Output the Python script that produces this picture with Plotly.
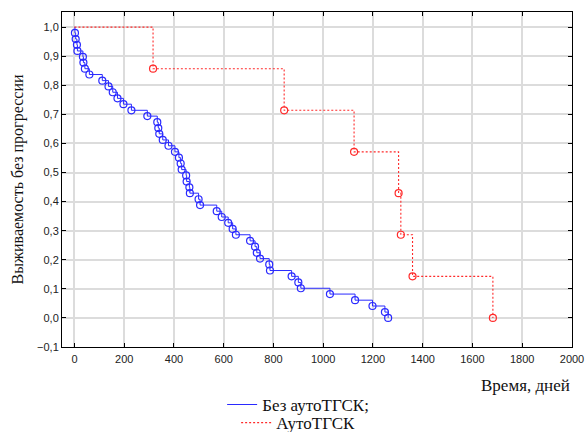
import plotly.graph_objects as go

# Without auto-HSCT (blue): event times (days) and survival after each event
blue_days = [2, 5, 10, 12, 34, 36, 42, 60, 112, 137, 154, 173, 197, 229, 293,
             333, 337, 341, 355, 378, 404, 420, 427, 431, 449, 451, 462, 464,
             499, 505, 572, 592, 618, 636, 649, 706, 726, 733, 746, 783, 786,
             873, 900, 910, 1027, 1128, 1198, 1248, 1261]
blue_surv = [0.980, 0.959, 0.939, 0.918, 0.898, 0.878, 0.857, 0.837, 0.816,
             0.796, 0.776, 0.755, 0.735, 0.714, 0.694, 0.673, 0.653, 0.633,
             0.612, 0.592, 0.571, 0.551, 0.531, 0.510, 0.490, 0.469, 0.449,
             0.429, 0.408, 0.388, 0.367, 0.347, 0.327, 0.306, 0.286, 0.265,
             0.245, 0.224, 0.204, 0.184, 0.163, 0.143, 0.122, 0.102, 0.082,
             0.061, 0.041, 0.020, 0.000]

# Auto-HSCT (red)
red_days = [316, 843, 1124, 1303, 1312, 1359, 1682]
red_surv = [0.857, 0.714, 0.571, 0.429, 0.286, 0.143, 0.000]

start_day = [0]
start_surv = [1.0]

blue_name = "Без аутоТГСК;"
red_name = "АутоТГСК"
x_title = "Время, дней"
y_title = "Выживаемость без прогрессии"

x_ticks = [0, 200, 400, 600, 800, 1000, 1200, 1400, 1600, 1800, 2000]
y_ticks = [-0.1, 0.0, 0.1, 0.2, 0.3, 0.4, 0.5, 0.6, 0.7, 0.8, 0.9, 1.0]

BLUE = "#2a2aff"
RED = "#ff2a2a"
SERIF = "Liberation Serif"
SANS = "Liberation Sans"

fig = go.Figure()

fig.add_trace(go.Scatter(
    x=start_day + blue_days, y=start_surv + blue_surv, mode="lines",
    line=dict(color=BLUE, width=1, shape="hv"), name=blue_name,
    legend="legend", hoverinfo="skip"))
fig.add_trace(go.Scatter(
    x=blue_days, y=blue_surv, mode="markers", showlegend=False,
    marker=dict(symbol="circle-open", size=7, color=BLUE, line=dict(width=1.2))))

fig.add_trace(go.Scatter(
    x=start_day + red_days, y=start_surv + red_surv, mode="lines",
    line=dict(color=RED, width=1.1, shape="hv", dash="2px,2px"), name=red_name,
    legend="legend2", hoverinfo="skip"))
fig.add_trace(go.Scatter(
    x=red_days, y=red_surv, mode="markers", showlegend=False,
    marker=dict(symbol="circle-open", size=7, color=RED, line=dict(width=1.2))))

axis_common = dict(
    showline=True, linecolor="black", linewidth=1, mirror="ticks",
    ticks="inside", ticklen=4, tickcolor="black", tickwidth=1,
    showgrid=True, gridcolor="#dcdcdc", gridwidth=1.5, zeroline=False,
    automargin=False,
    tickfont=dict(family=SANS, size=11, color="#222222"),
)

fig.update_xaxes(range=[-50, 2000], tickvals=x_ticks, tickformat="d",
                 ticklabelstandoff=2, **axis_common)
fig.update_yaxes(range=[-0.1, 1.052], tickvals=y_ticks, tickformat=".1f", **axis_common)

fig.add_annotation(text=y_title, xref="paper", yref="paper", x=-0.0863, y=0.5,
                   xanchor="center", yanchor="middle", textangle=-90, showarrow=False,
                   font=dict(family=SERIF, size=16, color="#111111"))
fig.add_annotation(text=x_title, xref="paper", yref="paper", x=1.0, y=-0.116,
                   xanchor="right", yanchor="middle", showarrow=False,
                   font=dict(family=SERIF, size=17, color="#111111"))

legend_common = dict(xanchor="center", yanchor="middle", x=0.463,
                     bgcolor="rgba(0,0,0,0)", borderwidth=0, itemwidth=30,
                     font=dict(family=SERIF, size=17, color="#111111"))

fig.update_layout(
    width=585, height=432,
    margin=dict(l=62, r=13, t=12, b=85, autoexpand=False),
    plot_bgcolor="white", paper_bgcolor="white",
    separators=", ",
    legend=dict(y=-0.173, **legend_common),
    legend2=dict(y=-0.227, **legend_common),
)

fig.write_html("out.html", config={"displayModeBar": False},
               post_script="document.body.style.margin='0';document.body.style.padding='0';")
